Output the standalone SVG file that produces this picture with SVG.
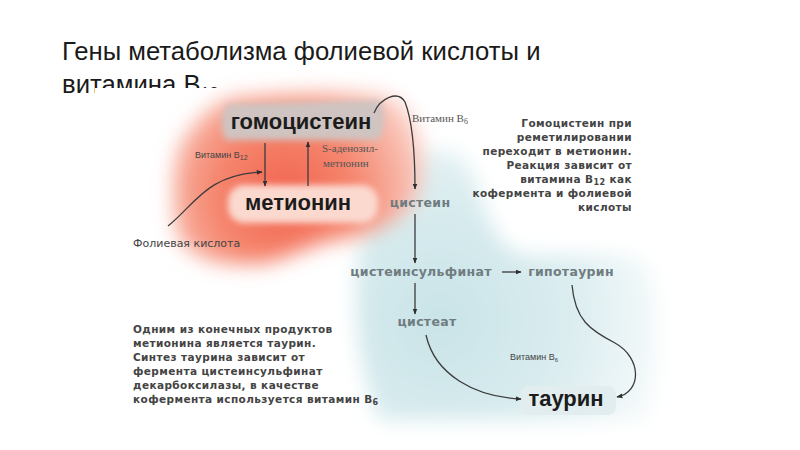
<svg xmlns="http://www.w3.org/2000/svg" width="800" height="450" viewBox="0 0 800 450">
<style>
.title{font-family:"Liberation Sans",Arial,sans-serif;font-size:25.7px;fill:#1a1a1a}
.big{font-family:"Liberation Sans",Arial,sans-serif;font-weight:bold;font-size:22px;fill:#1c1c1c}
.mid{font-family:"DejaVu Sans",sans-serif;font-weight:bold;font-size:12.5px;letter-spacing:0.3px;fill:#6f7c80}
.note{font-family:"DejaVu Sans",sans-serif;font-weight:bold;font-size:10.5px;letter-spacing:0.4px;fill:#444}
.small{font-family:"Liberation Sans Narrow","Liberation Sans",sans-serif;font-size:9px;fill:#444}
.serif{font-family:"Liberation Serif","Times New Roman",serif;font-size:11px;fill:#555}
.folic{font-family:"DejaVu Sans",sans-serif;font-size:11px;fill:#444}
.ln{fill:none;stroke:#3c3c3c;stroke-width:1.3}
</style>
<defs>
<marker id="ah" viewBox="0 0 10 10" refX="9" refY="5" markerWidth="6" markerHeight="6" orient="auto" markerUnits="userSpaceOnUse">
<path d="M0,1 L10,5 L0,9 Z" fill="#2e2e2e"/>
</marker>
<radialGradient id="red" cx="285" cy="195" r="160" gradientUnits="userSpaceOnUse">
<stop offset="0" stop-color="#f2624d"/>
<stop offset="0.45" stop-color="#f5876f"/>
<stop offset="0.8" stop-color="#f9bfb2"/>
<stop offset="1" stop-color="#fde9e4"/>
</radialGradient>
<radialGradient id="blue" cx="440" cy="320" r="220" gradientUnits="userSpaceOnUse">
<stop offset="0" stop-color="#c9e3e7"/>
<stop offset="0.6" stop-color="#dbedf0"/>
<stop offset="1" stop-color="#f4f9fa"/>
</radialGradient>
<filter id="soft" x="-20%" y="-20%" width="140%" height="140%">
<feGaussianBlur stdDeviation="10"/>
</filter>
<filter id="soft2" x="-20%" y="-20%" width="140%" height="140%">
<feGaussianBlur stdDeviation="3"/>
</filter>
</defs>
<rect width="800" height="450" fill="#fff"/>
<g id="title">
<text class="title" x="62" y="60">Гены метаболизма фолиевой кислоты и</text>
<text class="title" x="62" y="93">витамина B<tspan font-size="16" dy="6">12</tspan></text>
</g>
<rect x="95" y="88" width="705" height="362" fill="#fff"/>
<g id="background">
<path d="M380,185 C 400,150 440,140 465,160 C 480,180 485,235 515,252 C 545,262 600,245 645,262 C 665,300 660,380 645,420 L 380,420 C 360,380 350,300 360,250 C 365,220 370,200 380,185 Z" fill="url(#blue)" filter="url(#soft)"/>
<path d="M230,98 C 280,94 340,90 388,96 C 414,104 426,140 422,180 C 417,212 385,234 335,240 C 305,246 285,262 255,264 C 210,266 180,254 176,228 C 172,200 172,165 180,146 C 193,122 210,106 230,98 Z" fill="url(#red)" filter="url(#soft)"/>
<path d="M228,104 L380,100 C 386,110 386,132 378,140 L226,140 C 220,130 220,112 228,104 Z" fill="#cfc4c1" filter="url(#soft2)"/>
<rect x="228" y="185" width="150" height="38" rx="16" fill="#fbd9cf" filter="url(#soft2)"/>
<rect x="520" y="386" width="96" height="29" rx="8" fill="#e2edef"/>
</g>
<g id="connectors">
<path class="ln" d="M265,143 L265,186" marker-end="url(#ah)"/>
<path class="ln" d="M308,186 L308,142" marker-end="url(#ah)"/>
<path class="ln" d="M168,226 C 195,205 205,175 262,172" marker-end="url(#ah)"/>
<path class="ln" d="M374,113 C 380,98 398,90 405,102 C 412,120 415,150 415,189" marker-end="url(#ah)"/>
<path class="ln" d="M415,214 L415,263" marker-end="url(#ah)"/>
<path class="ln" d="M502,272 L521,272" marker-end="url(#ah)"/>
<path class="ln" d="M415,283 L415,314" marker-end="url(#ah)"/>
<path class="ln" d="M426,335 C 435,375 475,397 521,399" marker-end="url(#ah)"/>
<path class="ln" d="M572,285 C 575,320 590,330 615,343 C 642,358 642,392 617,397" marker-end="url(#ah)"/>
</g>
<g id="homocysteine"><text class="big" x="301" y="129" text-anchor="middle">гомоцистеин</text></g>
<g id="methionine"><text class="big" x="298" y="210" text-anchor="middle">метионин</text></g>
<g id="b12-label"><text class="small" x="195" y="158">Витамин B<tspan font-size="7" dy="2">12</tspan></text></g>
<g id="sam-label">
<text class="serif" x="322" y="152">S-аденозил-</text>
<text class="serif" x="323" y="167">метионин</text>
</g>
<g id="folic"><text class="folic" x="133" y="247">Фолиевая кислота</text></g>
<g id="b6-top"><text class="serif" x="412" y="122">Витамин B<tspan font-size="8" dy="2">6</tspan></text></g>
<g id="cysteine"><text class="mid" x="420" y="207" text-anchor="middle">цистеин</text></g>
<g id="cysteinesulfinate"><text class="mid" x="421" y="276" text-anchor="middle">цистеинсульфинат</text></g>
<g id="hypotaurine"><text class="mid" x="571" y="276" text-anchor="middle">гипотаурин</text></g>
<g id="cysteate"><text class="mid" x="427" y="326" text-anchor="middle">цистеат</text></g>
<g id="b6-bottom"><text class="small" x="510" y="360" font-size="8">Витамин B<tspan font-size="6" dy="2">6</tspan></text></g>
<g id="taurine"><text class="big" x="566" y="406" text-anchor="middle" font-size="23">таурин</text></g>
<g id="note-top">
<text class="note" x="632" y="127" text-anchor="end">Гомоцистеин при</text>
<text class="note" x="632" y="141" text-anchor="end">реметилировании</text>
<text class="note" x="632" y="155" text-anchor="end">переходит в метионин.</text>
<text class="note" x="632" y="169" text-anchor="end">Реакция зависит от</text>
<text class="note" x="632" y="183" text-anchor="end">витамина B<tspan font-size="8" dy="2">12</tspan><tspan dy="-2"> как</tspan></text>
<text class="note" x="632" y="197" text-anchor="end">кофермента и фолиевой</text>
<text class="note" x="632" y="211" text-anchor="end">кислоты</text>
</g>
<g id="note-bottom">
<text class="note" x="133" y="333">Одним из конечных продуктов</text>
<text class="note" x="133" y="347">метионина является таурин.</text>
<text class="note" x="133" y="361">Синтез таурина зависит от</text>
<text class="note" x="133" y="375">фермента цистеинсульфинат</text>
<text class="note" x="133" y="389">декарбоксилазы, в качестве</text>
<text class="note" x="133" y="403">кофермента используется витамин B<tspan font-size="8" dy="2">6</tspan></text>
</g>
</svg>
